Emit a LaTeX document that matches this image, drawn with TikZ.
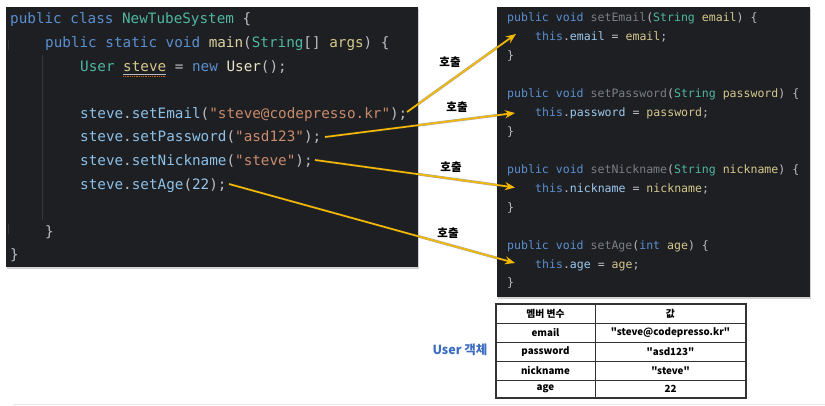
\documentclass[tikz,border=0pt]{standalone}
\usepackage{fontspec}
\setmonofont{DejaVu Sans Mono}
\newfontfamily\krfont{Noto Sans CJK KR}
\usetikzlibrary{arrows.meta,shadows}
\definecolor{panelbg}{HTML}{1E1F22}
\definecolor{ckwc}{HTML}{5A8FD0}
\definecolor{ctyc}{HTML}{4FB7A0}
\definecolor{cfnc}{HTML}{DCD3A0}
\definecolor{cvarc}{HTML}{D5C88D}
\definecolor{cpunc}{HTML}{BCBEC4}
\definecolor{cstrc}{HTML}{C98B6B}
\definecolor{ccallc}{HTML}{8CC0E8}
\definecolor{cdimc}{HTML}{7A7E85}
\definecolor{cfldc}{HTML}{9CC8EE}
\definecolor{arrowc}{HTML}{F5B800}
\definecolor{userc}{HTML}{3B6CC0}
\definecolor{guidec}{HTML}{36373B}
\newcommand\ckw[1]{\textcolor{ckwc}{#1}}
\newcommand\cty[1]{\textcolor{ctyc}{#1}}
\newcommand\cfn[1]{\textcolor{cfnc}{#1}}
\newcommand\cvr[1]{\textcolor{cvarc}{#1}}
\newcommand\cpu[1]{\textcolor{cpunc}{#1}}
\newcommand\cst[1]{\textcolor{cstrc}{#1}}
\newcommand\ccl[1]{\textcolor{ccallc}{#1}}
\newcommand\cdm[1]{\textcolor{cdimc}{#1}}
\newcommand\cfd[1]{\textcolor{cfldc}{#1}}
\begin{document}
\begin{tikzpicture}[x=1pt,y=-1pt,
  codeL/.style={anchor=base west,inner sep=0pt,text=cpunc,font=\fontsize{14.3}{16}\selectfont\ttfamily},
  codeR/.style={anchor=base west,inner sep=0pt,text=cpunc,font=\fontsize{11.55}{13}\selectfont\ttfamily},
  panel/.style={fill=panelbg,draw=none,drop shadow={opacity=0.35,shadow xshift=1pt,shadow yshift=-2pt}},
  callarrow/.style={draw=arrowc,line width=1.7pt,-{Stealth[length=10pt,width=8pt]}},
  callshade/.style={draw=black!75,opacity=0.45,line width=2.7pt,shorten >=9pt},
  calllabel/.style={inner sep=0pt,font=\krfont\bfseries\fontsize{11.5}{13}\selectfont},
  cell/.style={inner sep=0pt,font=\krfont\bfseries\fontsize{9.8}{11}\selectfont}]
\useasboundingbox (0,0) rectangle (825,406);
\fill[white] (0,0) rectangle (825,406);
% bottom rule
\draw[black!9,line width=1pt] (13,404) -- (825,404);
% panels
\path[panel] (6,7) rectangle (418,267);
\path[panel] (497,7) rectangle (810,297);
% indent guide
\draw[guidec,line width=0.8pt] (42,55) -- (42,220);
\draw[guidec,line width=0.8pt] (8,40) -- (8,50);
\draw[guidec,line width=0.8pt] (8,224) -- (8,234);
% left code
\node[codeL] (L0) at (10,24) {\ckw{public} \ckw{class} \cty{NewTubeSystem} \{};
\node[codeL] (L1) at (45,47.6) {\ckw{public} \ckw{static} \ckw{void} \cfn{main}(\cty{String}[] \cvr{args}) \{};
\node[codeL] (L2) at (80,71.2) {\cty{User} \cvr{steve} = \ckw{new} \textcolor{cfnc!60!white}{User}();};
\draw[cpunc,line width=0.5pt] (123,74.5) -- (166,74.5);
\draw[orange!80!black,line width=0.5pt,dash pattern=on 1pt off 0.8pt] (123,76.5) -- (166,76.5);
\node[codeL] (L4) at (80,118.4) {\ccl{steve}.\ccl{setEmail}(\cst{"steve@codepresso.kr"});};
\node[codeL] (L5) at (80,142) {\ccl{steve}.\ccl{setPassword}(\cst{"asd123"});};
\node[codeL] (L6) at (80,165.6) {\ccl{steve}.\ccl{setNickname}(\cst{"steve"});};
\node[codeL] (L7) at (80,189.2) {\ccl{steve}.\ccl{setAge}(\cfd{22});};
\node[codeL] (L9) at (45,236.4) {\}};
\node[codeL] (L10) at (10,260) {\}};
% right code
\node[codeR] (R0) at (507,22) {\ckw{public} \ckw{void} \cdm{setEmail}(\cty{String} \cvr{email}) \{};
\node[codeR] (R1) at (535,40.9) {\ckw{this}.\cfd{email} = \cvr{email};};
\node[codeR] (R2) at (507,59.9) {\}};
\node[codeR] (R4) at (507,97.7) {\ckw{public} \ckw{void} \cdm{setPassword}(\cty{String} \cvr{password}) \{};
\node[codeR] (R5) at (535,116.7) {\ckw{this}.\cfd{password} = \cvr{password};};
\node[codeR] (R6) at (507,135.6) {\}};
\node[codeR] (R8) at (507,173.4) {\ckw{public} \ckw{void} \cdm{setNickname}(\cty{String} \cvr{nickname}) \{};
\node[codeR] (R9) at (535,192.4) {\ckw{this}.\cfd{nickname} = \cvr{nickname};};
\node[codeR] (R10) at (507,211.3) {\}};
\node[codeR] (R12) at (507,249.2) {\ckw{public} \ckw{void} \cdm{setAge}(\ckw{int} \cvr{age}) \{};
\node[codeR] (R13) at (535,268.1) {\ckw{this}.\cfd{age} = \cvr{age};};
\node[codeR] (R14) at (507,287) {\}};
% arrow end points
\coordinate (s1) at (407,112);
\coordinate (e1) at (516,34);
\coordinate (s2) at (325,137);
\coordinate (e2) at (515,113);
\coordinate (s3) at (315,160);
\coordinate (e3) at (515,187.5);
\coordinate (s4) at (229,184);
\coordinate (e4) at (515,263);
\foreach \i in {1,2,3,4}{
  \draw[callshade] (s\i) -- (e\i);
  \draw[callarrow] (s\i) -- (e\i);
}
\node[calllabel] (h1) at (450,62) {호출};
\node[calllabel] (h2) at (457,107) {호출};
\node[calllabel] (h3) at (451,167) {호출};
\node[calllabel] (h4) at (448,233) {호출};
% table
\path[fill=white,drop shadow={opacity=0.25,shadow xshift=1pt,shadow yshift=-1pt}] (496,304) rectangle (746,398);
\draw[black!80,line width=1.1pt] (496,304) rectangle (746,398);
\draw[black!80,line width=1pt] (595,304) -- (595,398);
\foreach \yy in {323,342,361,380}{\draw[black!80,line width=1pt] (496,\yy) -- (746,\yy);}
\node[cell] (t00) at (545.5,313.5) {멤버 변수};
\node[cell] (t01) at (670.5,313.5) {값};
\node[cell] (t10) at (545.5,332.5) {email};
\node[cell] (t11) at (670.5,332.5) {"steve@codepresso.kr"};
\node[cell] (t20) at (545.5,351.5) {password};
\node[cell] (t21) at (670.5,351.5) {"asd123"};
\node[cell] (t30) at (545.5,370.5) {nickname};
\node[cell] (t31) at (670.5,370.5) {"steve"};
\node[cell] (t40) at (545.5,389) {age};
\node[cell] (t41) at (670.5,389) {22};
\node[inner sep=0pt,text=userc,font=\krfont\bfseries\fontsize{12.5}{14}\selectfont] (user) at (460,350) {User 객체};
\end{tikzpicture}
\end{document}
